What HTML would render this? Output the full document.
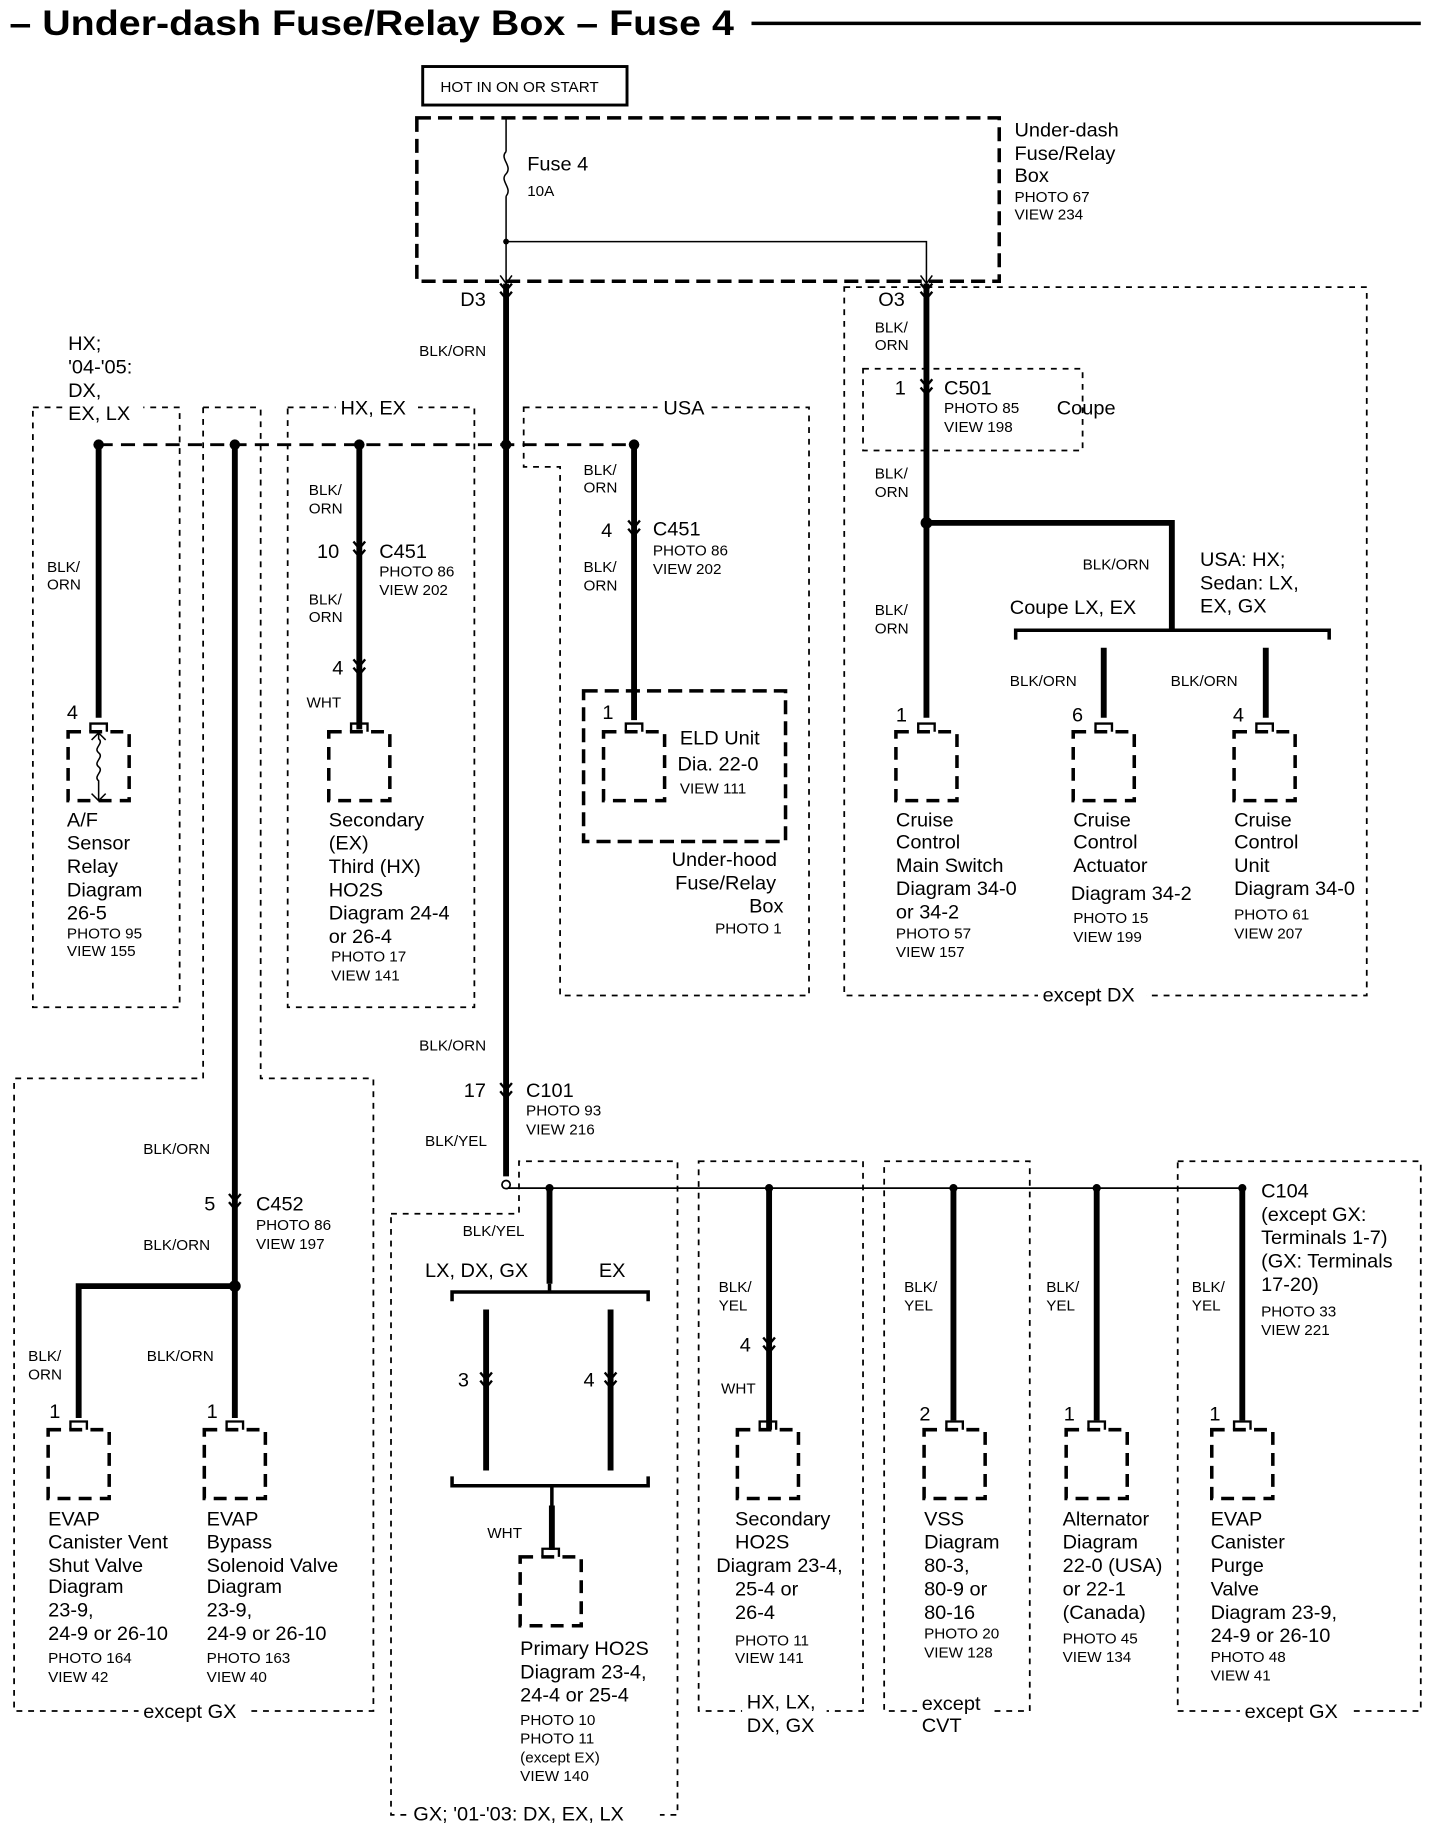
<!DOCTYPE html>
<html><head><meta charset="utf-8"><style>
html,body{margin:0;padding:0;background:#fff}
svg{display:block}
text{font-family:"Liberation Sans",Arial,sans-serif;fill:#000}
.t{font-size:17px}.s{font-size:13px}
</style></head><body>
<svg width="1456" height="1830" viewBox="0 0 1240 1568" preserveAspectRatio="none" xmlns="http://www.w3.org/2000/svg">
<defs>
<g id="cn" fill="none" stroke="#000" stroke-width="2"><path d="M-5,-7 L0,-1 L5,-7 M-5,0 L0,6 L5,0"/></g>
<g id="bx"><rect x="0" y="0" width="52" height="59" fill="none" stroke="#000" stroke-width="3" stroke-dasharray="11,7"/><path d="M19,0 v-7 h14 v7" fill="none" stroke="#000" stroke-width="2"/></g>
</defs>
<g stroke="#000" fill="none">
<line x1="640" y1="20" x2="1210" y2="20" stroke-width="3"/>
<rect x="360" y="57" width="174" height="33" stroke-width="2.5"/>
<rect x="355" y="101" width="496" height="140" stroke-width="3" stroke-dasharray="12,6"/>
<path d="M431,101 V130 M431,168 V243 M431,207 H789 V243" stroke-width="1.3"/>
<path d="M431,130 c-6,6 6,12 0,19 c-6,6 6,12 0,19" stroke-width="1.3"/>
<path d="M426,236 L431,243 L436,236 M784,236 L789,243 L794,236" stroke-width="1.3"/>
<g stroke-width="5">
<path d="M431,243 V1008"/>
<path d="M84,381 V615"/>
<path d="M200,381 V1215"/>
<path d="M306,381 V625"/>
<path d="M540,381 V617"/>
<path d="M789,243 V615"/>
<path d="M789,448 H998 V540"/>
<path d="M940,555 V615 M1078,555 V615"/>
<path d="M200,1102 H67 V1215"/>
<path d="M468,1018 V1100"/>
<path d="M414,1122 V1260 M520,1122 V1260"/>
<path d="M470,1290 V1328"/>
<path d="M655,1018 V1225 M812,1018 V1217 M934,1018 V1217 M1058,1018 V1217"/>
</g>
<path d="M865,548 V540 H1132 V548 M998,540 V532" stroke-width="3"/>
<path d="M385,1115 V1107 H552 V1115 M468,1107 V1100" stroke-width="3"/>
<path d="M385,1265 V1273 H552 V1265 M470,1273 V1290" stroke-width="3"/>
<line x1="431" y1="1018" x2="1058" y2="1018" stroke-width="1.5"/>
<line x1="84" y1="381" x2="540" y2="381" stroke-width="2.5" stroke-dasharray="12,7"/>
<g stroke-width="1.5" stroke-dasharray="5,5">
<rect x="28" y="349" width="125" height="514"/>
<path d="M173,349 H222 M173,349 V924 H12 V1466 H318 V924 H222 V349"/>
<rect x="245" y="349" width="159" height="514"/>
<path d="M446,349 H689 V853 H477 V400 H446 Z"/>
<rect x="719" y="246" width="445" height="607"/>
<rect x="735" y="316" width="187" height="70"/>
<path d="M333,1040 H442 V995 H577 V1555 H333 Z"/>
<rect x="595" y="995" width="140" height="471"/>
<rect x="753" y="995" width="124" height="471"/>
<rect x="1003" y="995" width="207" height="471"/>
</g>
<rect x="497" y="592" width="172" height="129" stroke-width="3" stroke-dasharray="12,6"/>
<path d="M84,627 v6 c5,4 -5,8 0,12 c5,4 -5,8 0,12 c5,4 -5,8 0,12 v17 M78,634 L84,628 L90,634 M78,680 L84,686 L90,680" stroke-width="1.3"/>
</g>
<!-- white label backgrounds on borders -->
<g fill="#fff">
<rect x="286" y="340" width="70" height="20"/>
<rect x="560" y="340" width="46" height="20"/>
<rect x="884" y="844" width="92" height="20"/>
<rect x="118" y="1458" width="96" height="20"/>
<rect x="1056" y="1458" width="96" height="20"/>
<rect x="348" y="1546" width="214" height="20"/>
<rect x="632" y="1450" width="72" height="40"/>
<rect x="781" y="1451" width="64" height="40"/>
<rect x="56" y="346" width="66" height="16"/>
</g>
<g fill="#000">
<circle cx="84" cy="381" r="4.5"/><circle cx="200" cy="381" r="4.5"/><circle cx="306" cy="381" r="4.5"/><circle cx="431" cy="381" r="4.5"/><circle cx="540" cy="381" r="4.5"/>
<circle cx="789" cy="448" r="5"/><circle cx="200" cy="1102" r="5"/><circle cx="431" cy="207" r="2.5"/>
<circle cx="468" cy="1018" r="3.5"/><circle cx="655" cy="1018" r="3.5"/><circle cx="812" cy="1018" r="3.5"/><circle cx="934" cy="1018" r="3.5"/><circle cx="1058" cy="1018" r="3.5"/>
</g>
<circle cx="431" cy="1015" r="3.5" fill="#fff" stroke="#000" stroke-width="1.5"/>
<use href="#cn" x="431" y="250"/><use href="#cn" x="789" y="250"/>
<use href="#cn" x="789" y="332"/><use href="#cn" x="306" y="471"/><use href="#cn" x="306" y="572"/>
<use href="#cn" x="540" y="453"/><use href="#cn" x="431" y="935"/><use href="#cn" x="200" y="1030"/>
<use href="#cn" x="414" y="1183"/><use href="#cn" x="520" y="1183"/><use href="#cn" x="655" y="1153"/>
<use href="#bx" x="58" y="627"/><use href="#bx" x="280" y="627"/><use href="#bx" x="514" y="627"/>
<use href="#bx" x="763" y="627"/><use href="#bx" x="914" y="627"/><use href="#bx" x="1051" y="627"/>
<use href="#bx" x="41" y="1225"/><use href="#bx" x="174" y="1225"/><use href="#bx" x="443" y="1334"/>
<use href="#bx" x="628" y="1225"/><use href="#bx" x="787" y="1225"/><use href="#bx" x="908" y="1225"/><use href="#bx" x="1032" y="1225"/>

<text x="8" y="30" font-size="30" font-weight="bold" textLength="617" lengthAdjust="spacingAndGlyphs">– Under-dash Fuse/Relay Box – Fuse 4</text>
<text x="375" y="79" class="s">HOT IN ON OR START</text>
<text x="449" y="146" class="t">Fuse 4</text><text x="449" y="168" class="s">10A</text>
<text x="864" y="117" class="t">Under-dash</text><text x="864" y="137" class="t">Fuse/Relay</text><text x="864" y="156" class="t">Box</text>
<text x="864" y="173" class="s">PHOTO 67</text><text x="864" y="188" class="s">VIEW 234</text>
<text x="392" y="262" class="t">D3</text><text x="748" y="262" class="t">O3</text>
<text x="357" y="305" class="s">BLK/ORN</text>
<text x="745" y="285" class="s">BLK/</text><text x="745" y="300" class="s">ORN</text>
<text x="58" y="300" class="t">HX;</text><text x="58" y="320" class="t">'04-'05:</text><text x="58" y="340" class="t">DX,</text><text x="58" y="360" class="t">EX, LX</text>
<text x="290" y="355" class="t">HX, EX</text><text x="565" y="355" class="t">USA</text>
<text x="762" y="338" class="t">1</text><text x="804" y="338" class="t">C501</text><text x="804" y="354" class="s">PHOTO 85</text><text x="804" y="370" class="s">VIEW 198</text><text x="900" y="355" class="t">Coupe</text>
<text x="745" y="410" class="s">BLK/</text><text x="745" y="426" class="s">ORN</text>
<text x="922" y="488" class="s">BLK/ORN</text>
<text x="745" y="527" class="s">BLK/</text><text x="745" y="543" class="s">ORN</text>
<text x="860" y="526" class="t">Coupe LX, EX</text>
<text x="1022" y="485" class="t">USA: HX;</text><text x="1022" y="505" class="t">Sedan: LX,</text><text x="1022" y="525" class="t">EX, GX</text>
<text x="860" y="588" class="s">BLK/ORN</text><text x="997" y="588" class="s">BLK/ORN</text>
<text x="763" y="618" class="t">1</text><text x="913" y="618" class="t">6</text><text x="1050" y="618" class="t">4</text>
<text x="763" y="708" class="t">Cruise</text><text x="763" y="727" class="t">Control</text><text x="763" y="747" class="t">Main Switch</text><text x="763" y="767" class="t">Diagram 34-0</text><text x="763" y="787" class="t">or 34-2</text><text x="763" y="804" class="s">PHOTO 57</text><text x="763" y="820" class="s">VIEW 157</text>
<text x="914" y="708" class="t">Cruise</text><text x="914" y="727" class="t">Control</text><text x="914" y="747" class="t">Actuator</text><text x="912" y="771" class="t">Diagram 34-2</text><text x="914" y="791" class="s">PHOTO 15</text><text x="914" y="807" class="s">VIEW 199</text>
<text x="1051" y="708" class="t">Cruise</text><text x="1051" y="727" class="t">Control</text><text x="1051" y="747" class="t">Unit</text><text x="1051" y="767" class="t">Diagram 34-0</text><text x="1051" y="788" class="s">PHOTO 61</text><text x="1051" y="804" class="s">VIEW 207</text>
<text x="888" y="858" class="t">except DX</text>
<text x="40" y="490" class="s">BLK/</text><text x="40" y="505" class="s">ORN</text>
<text x="57" y="616" class="t">4</text>
<text x="57" y="708" class="t">A/F</text><text x="57" y="728" class="t">Sensor</text><text x="57" y="748" class="t">Relay</text><text x="57" y="768" class="t">Diagram</text><text x="57" y="788" class="t">26-5</text><text x="57" y="804" class="s">PHOTO 95</text><text x="57" y="819" class="s">VIEW 155</text>
<text x="263" y="424" class="s">BLK/</text><text x="263" y="440" class="s">ORN</text>
<text x="270" y="478" class="t">10</text><text x="323" y="478" class="t">C451</text><text x="323" y="494" class="s">PHOTO 86</text><text x="323" y="510" class="s">VIEW 202</text>
<text x="263" y="518" class="s">BLK/</text><text x="263" y="533" class="s">ORN</text>
<text x="283" y="578" class="t">4</text><text x="261" y="606" class="s">WHT</text>
<text x="280" y="708" class="t">Secondary</text><text x="280" y="728" class="t">(EX)</text><text x="280" y="748" class="t">Third (HX)</text><text x="280" y="768" class="t">HO2S</text><text x="280" y="788" class="t">Diagram 24-4</text><text x="280" y="808" class="t">or 26-4</text><text x="282" y="824" class="s">PHOTO 17</text><text x="282" y="840" class="s">VIEW 141</text>
<text x="497" y="407" class="s">BLK/</text><text x="497" y="422" class="s">ORN</text>
<text x="512" y="460" class="t">4</text><text x="556" y="459" class="t">C451</text><text x="556" y="476" class="s">PHOTO 86</text><text x="556" y="492" class="s">VIEW 202</text>
<text x="497" y="490" class="s">BLK/</text><text x="497" y="506" class="s">ORN</text>
<text x="513" y="616" class="t">1</text>
<text x="579" y="638" class="t">ELD Unit</text><text x="577" y="660" class="t">Dia. 22-0</text><text x="579" y="680" class="s">VIEW 111</text>
<text x="572" y="742" class="t">Under-hood</text><text x="575" y="762" class="t">Fuse/Relay</text><text x="638" y="782" class="t">Box</text><text x="609" y="800" class="s">PHOTO 1</text>
<text x="357" y="900" class="s">BLK/ORN</text>
<text x="395" y="940" class="t">17</text><text x="448" y="940" class="t">C101</text><text x="448" y="956" class="s">PHOTO 93</text><text x="448" y="972" class="s">VIEW 216</text>
<text x="362" y="982" class="s">BLK/YEL</text>
<text x="122" y="989" class="s">BLK/ORN</text>
<text x="174" y="1037" class="t">5</text><text x="218" y="1037" class="t">C452</text><text x="218" y="1054" class="s">PHOTO 86</text><text x="218" y="1070" class="s">VIEW 197</text>
<text x="122" y="1071" class="s">BLK/ORN</text>
<text x="24" y="1166" class="s">BLK/</text><text x="24" y="1182" class="s">ORN</text><text x="125" y="1166" class="s">BLK/ORN</text>
<text x="42" y="1215" class="t">1</text><text x="176" y="1215" class="t">1</text>
<text x="41" y="1307" class="t">EVAP</text><text x="41" y="1327" class="t">Canister Vent</text><text x="41" y="1347" class="t">Shut Valve</text><text x="41" y="1365" class="t">Diagram</text><text x="41" y="1385" class="t">23-9,</text><text x="41" y="1405" class="t">24-9 or 26-10</text><text x="41" y="1425" class="s">PHOTO 164</text><text x="41" y="1441" class="s">VIEW 42</text>
<text x="176" y="1307" class="t">EVAP</text><text x="176" y="1327" class="t">Bypass</text><text x="176" y="1347" class="t">Solenoid Valve</text><text x="176" y="1365" class="t">Diagram</text><text x="176" y="1385" class="t">23-9,</text><text x="176" y="1405" class="t">24-9 or 26-10</text><text x="176" y="1425" class="s">PHOTO 163</text><text x="176" y="1441" class="s">VIEW 40</text>
<text x="122" y="1472" class="t">except GX</text>
<text x="394" y="1059" class="s">BLK/YEL</text>
<text x="362" y="1094" class="t">LX, DX, GX</text><text x="510" y="1094" class="t">EX</text>
<text x="390" y="1188" class="t">3</text><text x="497" y="1188" class="t">4</text>
<text x="415" y="1318" class="s">WHT</text>
<text x="443" y="1418" class="t">Primary HO2S</text><text x="443" y="1438" class="t">Diagram 23-4,</text><text x="443" y="1458" class="t">24-4 or 25-4</text><text x="443" y="1478" class="s">PHOTO 10</text><text x="443" y="1494" class="s">PHOTO 11</text><text x="443" y="1510" class="s">(except EX)</text><text x="443" y="1526" class="s">VIEW 140</text>
<text x="352" y="1560" class="t">GX; '01-'03: DX, EX, LX</text>
<text x="612" y="1107" class="s">BLK/</text><text x="612" y="1123" class="s">YEL</text>
<text x="630" y="1158" class="t">4</text><text x="614" y="1194" class="s">WHT</text>
<text x="626" y="1307" class="t">Secondary</text><text x="626" y="1327" class="t">HO2S</text><text x="610" y="1347" class="t">Diagram 23-4,</text><text x="626" y="1367" class="t">25-4 or</text><text x="626" y="1387" class="t">26-4</text><text x="626" y="1410" class="s">PHOTO 11</text><text x="626" y="1425" class="s">VIEW 141</text>
<text x="636" y="1464" class="t">HX, LX,</text><text x="636" y="1484" class="t">DX, GX</text>
<text x="770" y="1107" class="s">BLK/</text><text x="770" y="1123" class="s">YEL</text>
<text x="783" y="1217" class="t">2</text>
<text x="787" y="1307" class="t">VSS</text><text x="787" y="1327" class="t">Diagram</text><text x="787" y="1347" class="t">80-3,</text><text x="787" y="1367" class="t">80-9 or</text><text x="787" y="1387" class="t">80-16</text><text x="787" y="1404" class="s">PHOTO 20</text><text x="787" y="1420" class="s">VIEW 128</text>
<text x="785" y="1465" class="t">except</text><text x="785" y="1484" class="t">CVT</text>
<text x="891" y="1107" class="s">BLK/</text><text x="891" y="1123" class="s">YEL</text>
<text x="906" y="1217" class="t">1</text>
<text x="905" y="1307" class="t">Alternator</text><text x="905" y="1327" class="t">Diagram</text><text x="905" y="1347" class="t">22-0 (USA)</text><text x="905" y="1367" class="t">or 22-1</text><text x="905" y="1387" class="t">(Canada)</text><text x="905" y="1408" class="s">PHOTO 45</text><text x="905" y="1424" class="s">VIEW 134</text>
<text x="1074" y="1026" class="t">C104</text><text x="1074" y="1046" class="t">(except GX:</text><text x="1074" y="1066" class="t">Terminals 1-7)</text><text x="1074" y="1086" class="t">(GX: Terminals</text><text x="1074" y="1106" class="t">17-20)</text><text x="1074" y="1128" class="s">PHOTO 33</text><text x="1074" y="1144" class="s">VIEW 221</text>
<text x="1015" y="1107" class="s">BLK/</text><text x="1015" y="1123" class="s">YEL</text>
<text x="1030" y="1217" class="t">1</text>
<text x="1031" y="1307" class="t">EVAP</text><text x="1031" y="1327" class="t">Canister</text><text x="1031" y="1347" class="t">Purge</text><text x="1031" y="1367" class="t">Valve</text><text x="1031" y="1387" class="t">Diagram 23-9,</text><text x="1031" y="1407" class="t">24-9 or 26-10</text><text x="1031" y="1424" class="s">PHOTO 48</text><text x="1031" y="1440" class="s">VIEW 41</text>
<text x="1060" y="1472" class="t">except GX</text>
</svg>
</body></html>
